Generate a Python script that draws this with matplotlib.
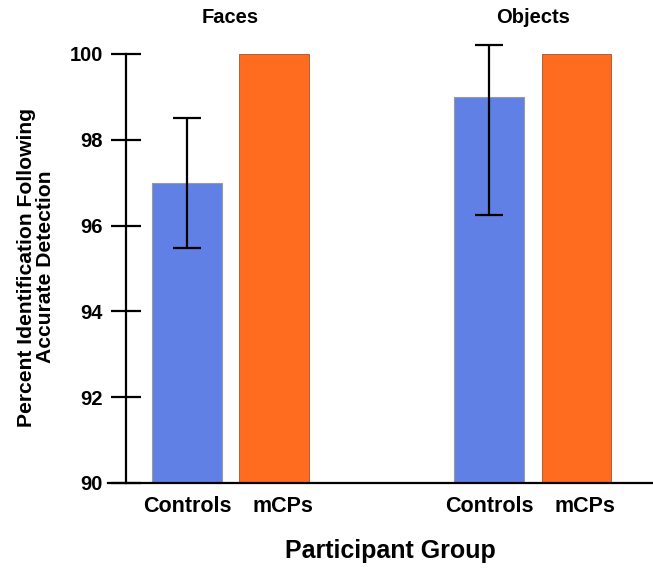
import numpy as np
import matplotlib.pyplot as plt

plt.rcParams['font.family'] = ['Liberation Sans', 'DejaVu Sans']
plt.rcParams['font.weight'] = 'bold'

# Data
groups = ['Faces', 'Objects']
participants = ['Controls', 'mCPs']
controls_mean = [97.0, 99.0]
controls_low = [95.47, 96.25]
controls_high = [98.5, 100.2]
mcps_mean = [100.0, 100.0]
yticks = [90, 92, 94, 96, 98, 100]

blue = '#6180e6'
orange = '#ff6b1f'

fig = plt.figure(figsize=(6.53, 5.68), dpi=100)
ax = fig.add_axes([108 / 653, 85 / 568, (653 - 108) / 653, 429 / 568])

pos = np.arange(len(groups))
off = 0.144
width = 0.231

ctrl_err = [np.array(controls_mean) - np.array(controls_low),
            np.array(controls_high) - np.array(controls_mean)]
ax.bar(pos - off, controls_mean, width, color=blue, edgecolor='#9a9a9a', linewidth=0.8, zorder=2)
ax.bar(pos + off, mcps_mean, width, color=orange, edgecolor='#a0522d', linewidth=0.6, zorder=2)
ax.errorbar(pos - off, controls_mean, yerr=ctrl_err, fmt='none', ecolor='black',
            elinewidth=1.6, capsize=10, capthick=1.6, zorder=3, clip_on=False)

# spine position first: it resets the ticks
ax.spines['top'].set_visible(False)
ax.spines['right'].set_visible(False)
ax.spines['left'].set_position(('data', -0.3455))
ax.spines['left'].set_linewidth(1.6)
ax.spines['bottom'].set_linewidth(1.6)

ax.set_ylim(90, 100)
ax.set_xlim(-0.405, 1.397)
ax.set_yticks(yticks)
ax.set_yticklabels([str(t) for t in yticks])

xt = np.concatenate([pos - off, pos + off + 0.028])
xl = [participants[0]] * len(groups) + [participants[1]] * len(groups)
ax.set_xticks(xt)
ax.set_xticklabels(xl)
ax.tick_params(axis='x', length=0, pad=9, labelsize=15.5)
ax.tick_params(axis='y', direction='inout', length=22, width=1.6, pad=5.5, labelsize=14.5)

for p, g in zip(pos, groups):
    ax.text(p, 1.086, g, transform=ax.get_xaxis_transform(), ha='center', va='center',
            fontsize=14.5, fontweight='bold')

fig.text(36 / 653, 1 - 267 / 568, 'Percent Identification Following\nAccurate Detection',
         rotation=90, ha='center', va='center', fontsize=15.2, fontweight='bold', linespacing=0.98)
fig.text(390 / 653, 1 - 551 / 568, 'Participant Group', ha='center', va='center',
         fontsize=18, fontweight='bold')

fig.savefig('out.png', dpi=100)
